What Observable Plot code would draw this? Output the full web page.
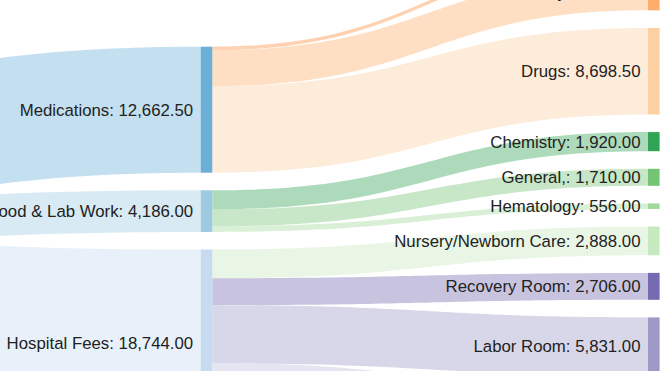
<!DOCTYPE html>
<html><head><meta charset="utf-8">
<script src="https://cdn.jsdelivr.net/npm/d3@7"></script>
<script src="https://cdn.jsdelivr.net/npm/@observablehq/plot@0.6"></script>
<style>
html,body{margin:0;padding:0;background:#fff;overflow:hidden;}
#chart{width:660px;height:371px;overflow:hidden;position:relative;}
#chart svg{display:block;overflow:hidden;}
</style></head><body><div id="chart"></div>
<script>
// ---- data ----
const nodeNames = ["Total","Medications","Blood & Lab Work","Hospital Fees","Supplies","Pharmacy","Drugs","Chemistry","General,","Hematology","Nursery/Newborn Care","Recovery Room","Labor Room","Delivery Room"];
const linkSources = ["Total","Total","Total","Medications","Medications","Medications","Blood & Lab Work","Blood & Lab Work","Blood & Lab Work","Hospital Fees","Hospital Fees","Hospital Fees","Hospital Fees"];
const linkTargets = ["Medications","Blood & Lab Work","Hospital Fees","Supplies","Pharmacy","Drugs","Chemistry","General,","Hematology","Nursery/Newborn Care","Recovery Room","Labor Room","Delivery Room"];
const linkValues = [12662.5,4186,18744,350,3614,8698.5,1920,1710,556,2888,2706,5831,7319];

// ---- style / layout constants ----
const nodeColors = ["#3182bd","#6baed6","#9ecae1","#c6dbef","#fd8d3c","#fdae6b","#fdd0a2","#31a354","#74c476","#a1d99b","#c7e9c0","#756bb1","#9e9ac8","#bcbddc"];
const W = 660, H = 371;
const PX_PER_UNIT = 0.00995;      // vertical pixels per value unit
const NODE_PAD_PX = 17.6;
const NODE_W_PX = 11.6;
const COL_X_PX = [-246.6, 648];   // x of column 0 and column 2 (linear)
const COL_TOP_PX = [73.3, 46.7, -46.7];
const FONT = "'Liberation Sans', Arial, sans-serif";

// ---- layout (computed from the data) ----
const nodes = nodeNames.map((name, i) => ({name, i, inLinks: [], outLinks: [], depth: 0}));
const byName = new Map(nodes.map(n => [n.name, n]));
const links = linkValues.map((value, i) => {
  const l = {id: i, source: byName.get(linkSources[i]), target: byName.get(linkTargets[i]), value};
  l.source.outLinks.push(l); l.target.inLinks.push(l);
  return l;
});
let changed = true;
while (changed) {
  changed = false;
  for (const l of links) if (l.target.depth < l.source.depth + 1) { l.target.depth = l.source.depth + 1; changed = true; }
}
for (const n of nodes) n.value = Math.max(d3.sum(n.inLinks, l => l.value), d3.sum(n.outLinks, l => l.value));
const colSpan = (COL_X_PX[1] - COL_X_PX[0]) / 2;
const nodeWCol = NODE_W_PX / colSpan;
const pad = NODE_PAD_PX / PX_PER_UNIT;
const cols = d3.groups(nodes, n => n.depth);
for (const [c, ns] of cols) {
  let cur = COL_TOP_PX[c] / PX_PER_UNIT;
  for (const n of ns) {
    n.x0 = c; n.x1 = c + nodeWCol;
    n.y0 = cur; n.y1 = cur + n.value;
    cur = n.y1 + pad;
  }
}
for (const n of nodes) {
  let y = n.y0;
  for (const l of [...n.outLinks].sort((a, b) => a.target.y0 - b.target.y0)) { l.sy0 = y; y += l.value; l.sy1 = y; }
  y = n.y0;
  for (const l of [...n.inLinks].sort((a, b) => a.source.y0 - b.source.y0)) { l.ty0 = y; y += l.value; l.ty1 = y; }
}
const bandRows = links.flatMap(l => [
  {id: l.id, key: l.target.name, x: l.source.x1, lo: l.sy0, hi: l.sy1},
  {id: l.id, key: l.target.name, x: l.target.x0, lo: l.ty0, hi: l.ty1}
]);
const nodeRows = nodes.map(n => ({name: n.name, depth: n.depth, left: n.x0, right: n.x1, top: n.y0, bottom: n.y1, mid: (n.y0 + n.y1) / 2, value: n.value}));
const labelRows = nodeRows.filter(d => d.depth > 0);
const fmt = d3.format(",.2f");

const chart = Plot.plot({
  width: W, height: H,
  marginTop: 0, marginRight: 0, marginBottom: 0, marginLeft: 0,
  style: {fontFamily: FONT, background: "#fff"},
  x: {axis: null, domain: [0, 2], range: COL_X_PX},
  y: {axis: null, domain: [0, H / PX_PER_UNIT], range: [0, H]},
  color: {type: "ordinal", domain: nodeNames, range: nodeColors},
  marks: [
    Plot.areaY(bandRows, {x: "x", y1: "lo", y2: "hi", z: "id", fill: "key", fillOpacity: 0.4, curve: "bump-x"}),
    Plot.rect(nodeRows, {x1: "left", x2: "right", y1: "top", y2: "bottom", fill: "name"}),
    Plot.text(labelRows, {x: "left", y: "mid", text: d => `${d.name}: ${fmt(d.value)}`,
      textAnchor: "end", dx: -8, fontSize: 16.8, fill: "#222", fontFamily: FONT})
  ]
});
document.getElementById("chart").appendChild(chart);
</script></body></html>
